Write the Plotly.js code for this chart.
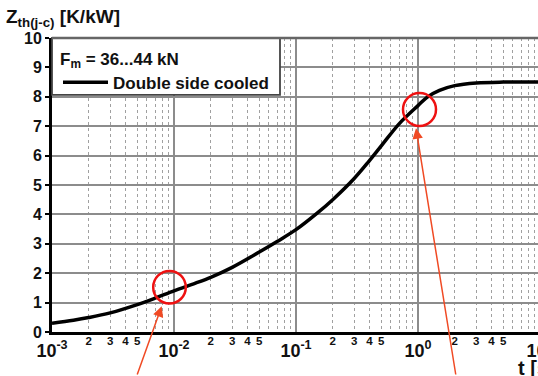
<!DOCTYPE html>
<html>
<head>
<meta charset="utf-8">
<script src="https://cdn.plot.ly/plotly-3.0.1.min.js"></script>
<style>
html,body{margin:0;padding:0;overflow:hidden;background:#fff;width:538px;height:376px;}
#chart{width:560px;height:376px;}
</style>
</head>
<body>
<div id="chart"></div>
<script>
// time [s]
const tVals = [0.001,0.0015,0.002,0.003,0.005,0.007,0.01,0.015,0.02,0.03,0.05,0.07,0.1,0.15,0.2,0.3,0.4,0.5,0.7,1,1.2,1.5,2,3,5,10];
// Zth(j-c) [K/kW]
const zVals = [0.30,0.40,0.49,0.65,0.93,1.15,1.40,1.66,1.86,2.2,2.72,3.08,3.48,4.05,4.5,5.22,5.83,6.33,7.08,7.7,8.0,8.22,8.38,8.47,8.5,8.5];

const majorTicks = [0.001,0.01,0.1,1,10];
const majorText = ['10<sup>-3</sup>','10<sup>-2</sup>','10<sup>-1</sup>','10<sup>0</sup>','10<sup>1</sup>'];
const minorGrid = [];
const minorLabelVals = [];
const minorLabelText = [];
[0.001,0.01,0.1,1].forEach(d => {
  [2,3,4,5,6,7,8,9].forEach(m => minorGrid.push(d*m));
  [2,3,4,5].forEach(m => { minorLabelVals.push(d*m); minorLabelText.push(String(m)); });
});
const yTicks = [0,1,2,3,4,5,6,7,8,9,10];

const FONT = 'Liberation Sans, Arial, Helvetica, sans-serif';
const PX_L = 52, PX_W = 488, PX_B = 331.7, PX_H = 293.4;
const px = x => (x - PX_L) / PX_W;
const py = y => (PX_B - y) / PX_H;

const trace = {
  x: tVals, y: zVals, type: 'scatter', mode: 'lines',
  line: {color: '#000', width: 3.5, shape: 'spline', smoothing: 1},
  name: 'Double side cooled', showlegend: true
};
// invisible companion so the minor-label axis is rendered
const labelAxisTrace = {
  x: tVals, y: zVals, type: 'scatter', mode: 'lines', xaxis: 'x2',
  line: {color: 'rgba(0,0,0,0)', width: 0}, opacity: 0, showlegend: false, hoverinfo: 'skip'
};

const layout = {
  width: 560, height: 376,
  margin: {l: 52, r: 20, t: 38, b: 44},
  paper_bgcolor: '#fff', plot_bgcolor: '#fff',
  font: {family: FONT, color: '#111', weight: 'bold'},
  showlegend: true,
  legend: {
    x: px(58), y: py(43), xanchor: 'left', yanchor: 'top',
    bgcolor: 'rgba(0,0,0,0)', borderwidth: 0,
    font: {family: FONT, size: 17, color: '#111', weight: 'bold'},
    title: {text: 'F<sub>m</sub> = 36...44 kN', font: {family: FONT, size: 17, color: '#111', weight: 'bold'}},
    itemwidth: 45, tracegroupgap: 0
  },
  xaxis: {
    type: 'log', range: [-3, 1],
    tickmode: 'array', tickvals: majorTicks, ticktext: majorText,
    tickfont: {family: FONT, size: 18, color: '#111', weight: 'bold'},
    ticks: '', showgrid: true, gridcolor: '#8c8c8c', gridwidth: 2,
    minor: {tickmode: 'array', tickvals: minorGrid, showgrid: true, gridcolor: '#a0a0a0', griddash: 'dot', gridwidth: 1, ticks: ''},
    showline: true, linecolor: '#000', linewidth: 3, zeroline: false
  },
  xaxis2: {
    type: 'log', range: [-3, 1], overlaying: 'x', anchor: 'y', side: 'bottom',
    tickmode: 'array', tickvals: minorLabelVals, ticktext: minorLabelText,
    tickfont: {family: FONT, size: 11.5, color: '#111', weight: 'bold'},
    ticks: '', showgrid: false, showline: false, zeroline: false
  },
  yaxis: {
    range: [0, 10], tickmode: 'array', tickvals: yTicks,
    tickfont: {family: FONT, size: 16, color: '#111', weight: 'bold'},
    ticks: 'outside', ticklen: 4, tickwidth: 2, tickcolor: '#000',
    showgrid: true, gridcolor: '#8c8c8c', gridwidth: 2,
    showline: true, linecolor: '#000', linewidth: 3, zeroline: false
  },
  shapes: [
    {type: 'rect', xref: 'paper', yref: 'paper', x0: 0, x1: px(280), y0: py(95), y1: 1,
     fillcolor: '#fff', line: {color: '#444', width: 1.8}, layer: 'above'},
    {type: 'line', xref: 'paper', yref: 'paper', x0: 0, x1: 1, y0: 1, y1: 1,
     line: {color: '#666', width: 2.5}, layer: 'above'},
    {type: 'circle', xref: 'paper', yref: 'paper', x0: px(153.2), x1: px(185.8), y0: py(303.3), y1: py(270.7),
     line: {color: '#ee1111', width: 2.5}, layer: 'above'},
    {type: 'circle', xref: 'paper', yref: 'paper', x0: px(403), x1: px(436), y0: py(126.2), y1: py(93.2),
     line: {color: '#ee1111', width: 2.5}, layer: 'above'}
  ],
  annotations: [
    {text: 'Z<sub>th(j-c)</sub> [K/kW]', xref: 'paper', yref: 'paper', x: px(4), y: py(4),
     xanchor: 'left', yanchor: 'top', showarrow: false,
     font: {family: FONT, size: 19, color: '#111', weight: 'bold'}},
    {text: 't [s]', xref: 'paper', yref: 'paper', x: px(516), y: py(355),
     xanchor: 'left', yanchor: 'top', showarrow: false,
     font: {family: FONT, size: 20, color: '#111', weight: 'bold'}},
    {text: '', xref: 'paper', yref: 'paper', x: px(161.7), y: py(306), ax: -25, ay: 72,
     showarrow: true, arrowhead: 2, arrowsize: 1.4, arrowwidth: 1.5, arrowcolor: '#f04a24', standoff: 0},
    {text: '', xref: 'paper', yref: 'paper', x: px(416), y: py(128.3), ax: 40, ay: 250,
     showarrow: true, arrowhead: 2, arrowsize: 1.4, arrowwidth: 1.5, arrowcolor: '#f04a24', standoff: 0}
  ]
};

Plotly.newPlot('chart', [trace, labelAxisTrace], layout, {staticPlot: true, displayModeBar: false});
</script>
</body>
</html>
